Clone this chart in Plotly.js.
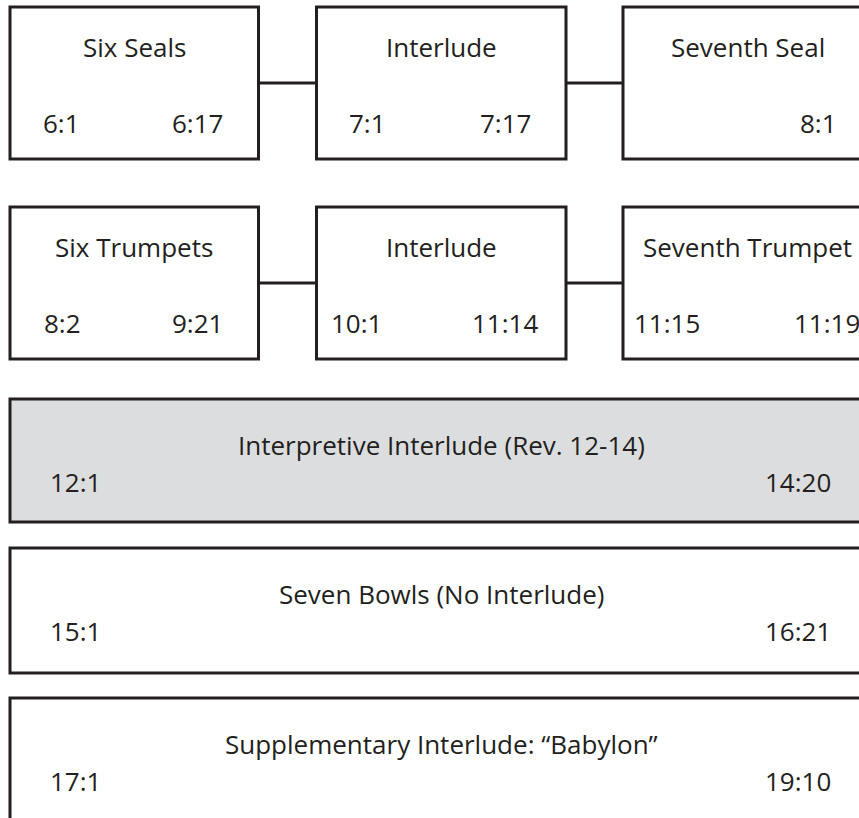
<!DOCTYPE html>
<html>
<head>
<meta charset="utf-8">
<script src="https://cdn.plot.ly/plotly-3.0.1.min.js"></script>
<style>html,body{margin:0;padding:0;background:#fff;}#chart{width:859px;height:818px;}</style>
</head>
<body>
<div id="chart"></div>
<script>
// ---- data ----
const sealTitles = ["Six Seals", "Interlude", "Seventh Seal"];
const sealStart = ["6:1", "7:1", ""];
const sealEnd = ["6:17", "7:17", "8:1"];

const trumpetTitles = ["Six Trumpets", "Interlude", "Seventh Trumpet"];
const trumpetStart = ["8:2", "10:1", "11:15"];
const trumpetEnd = ["9:21", "11:14", "11:19"];

const bandTitles = ["Interpretive Interlude (Rev. 12-14)", "Seven Bowls (No Interlude)", "Supplementary Interlude: \u201cBabylon\u201d"];
const bandStart = ["12:1", "15:1", "17:1"];
const bandEnd = ["14:20", "16:21", "19:10"];

// ---- layout constants ----
const INK = "#231f20";
const SHADE = "#dcdddf";
const FONT = {family: "Open Sans, Noto Sans, sans-serif", size: 26, color: INK};
const cols = [[10, 258.5], [316.5, 566], [623, 872]];
const boxRows = [[7, 159], [207, 359]];
const bandRows = [[399, 522], [548, 673], [698, 840]];
const bandX = [10, 872];
const bandFill = [SHADE, "#ffffff", "#ffffff"];
const startOff = [[51, 51, 51], [52, 40, 44]];
const endOff = [[61, 61, 54], [61, 61, 45]];
const titleDy = 40, numDy = 116, bandTitleDy = 46, bandNumDy = 83;

const shapes = [];
const annotations = [];
function ann(x, y, text) {
  if (!text) return;
  annotations.push({x: x, y: y, xref: "x", yref: "y", text: text, showarrow: false,
    xanchor: "center", yanchor: "middle", font: FONT});
}
function rect(x0, x1, y0, y1, fill) {
  shapes.push({type: "rect", xref: "x", yref: "y", x0: x0, x1: x1, y0: y0, y1: y1,
    line: {color: INK, width: 3}, fillcolor: fill, layer: "below"});
}
function hline(x0, x1, y) {
  shapes.push({type: "line", xref: "x", yref: "y", x0: x0, x1: x1, y0: y, y1: y,
    line: {color: INK, width: 3}, layer: "below"});
}

[[sealTitles, sealStart, sealEnd], [trumpetTitles, trumpetStart, trumpetEnd]].forEach(function (row, r) {
  const [titles, starts, ends] = row;
  const [top, bot] = boxRows[r];
  titles.forEach(function (t, c) {
    const [l, rgt] = cols[c];
    rect(l, rgt, top, bot, "#ffffff");
    ann((l + rgt) / 2, top + titleDy, t);
    ann(l + startOff[r][c], top + numDy, starts[c]);
    ann(rgt - endOff[r][c], top + numDy, ends[c]);
    if (c < titles.length - 1) hline(rgt, cols[c + 1][0], (top + bot) / 2);
  });
});

bandTitles.forEach(function (t, i) {
  const [top, bot] = bandRows[i];
  rect(bandX[0], bandX[1], top, bot, bandFill[i]);
  ann((bandX[0] + bandX[1]) / 2, top + bandTitleDy, t);
  ann(bandX[0] + 65, top + bandNumDy, bandStart[i]);
  ann(bandX[1] - 74, top + bandNumDy, bandEnd[i]);
});

const layout = {
  width: 859, height: 818,
  margin: {l: 0, r: 0, t: 0, b: 0},
  paper_bgcolor: "#ffffff", plot_bgcolor: "#ffffff",
  xaxis: {range: [0, 859], visible: false, fixedrange: true},
  yaxis: {range: [818, 0], visible: false, fixedrange: true},
  shapes: shapes, annotations: annotations, showlegend: false
};
Plotly.newPlot("chart", [{x: [], y: [], type: "scatter", mode: "markers", hoverinfo: "skip"}], layout, {staticPlot: true, displayModeBar: false});
</script>
</body>
</html>
